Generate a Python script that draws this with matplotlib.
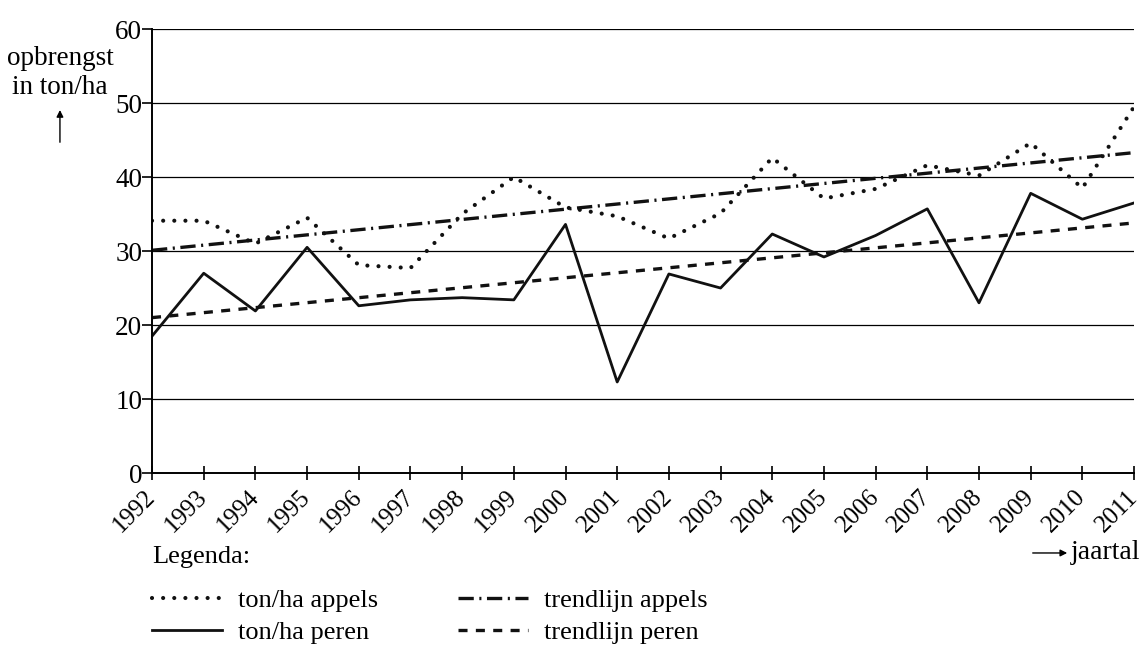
import numpy as np
import matplotlib
matplotlib.use("Agg")
import matplotlib.pyplot as plt

# data
years = list(range(1992, 2012))
appels = [34.1, 34.1, 31.0, 34.5, 28.1, 27.7, 35.0, 40.0, 35.9, 34.7,
          31.7, 35.1, 42.6, 37.1, 38.4, 41.6, 40.2, 44.6, 38.5, 49.5]
peren = [18.5, 27.0, 21.9, 30.5, 22.6, 23.4, 23.7, 23.4, 33.6, 12.3,
         26.9, 25.0, 32.3, 29.2, 32.1, 35.7, 23.0, 37.8, 34.3, 36.5]
trend_years = [1992, 2011]
trend_appels = [30.1, 43.3]
trend_peren = [21.0, 33.8]
yticks = [0, 10, 20, 30, 40, 50, 60]

plt.rcParams['font.family'] = ['Liberation Serif', 'DejaVu Serif']
plt.rcParams['lines.scale_dashes'] = False

fig = plt.figure(figsize=(11.44, 6.46), dpi=100)
ax = fig.add_axes([0.1329, 0.2678, 0.8584, 0.6872])

ax.plot(years, appels, color='#111111', lw=3, linestyle=(0, (0.01, 8)),
        dash_capstyle='round', label='ton/ha appels')
ax.plot(years, peren, color='#111111', lw=2, label='ton/ha peren')
ax.plot(trend_years, trend_appels, color='#111111', lw=2.4,
        linestyle=(0, (11, 4, 1.5, 4)), label='trendlijn appels')
ax.plot(trend_years, trend_peren, color='#111111', lw=2.4,
        linestyle=(0, (6.5, 6)), label='trendlijn peren')

ax.set_xlim(1992, 2011)
ax.set_ylim(0, 60)
ax.set_yticks(yticks)
ax.set_xticks(years)
ax.set_xticklabels([str(y) for y in years], rotation=45, ha='right',
                   va='center', rotation_mode='anchor', fontsize=18)
for t in ax.get_yticklabels():
    t.set_fontsize(19.5)
for y in yticks[1:]:
    ax.axhline(y, color='black', lw=0.9, zorder=0)

for s in ['top', 'right']:
    ax.spines[s].set_visible(False)
ax.spines['left'].set_linewidth(1.4)
ax.spines['bottom'].set_linewidth(1.4)
ax.tick_params(axis='y', direction='out', length=7, width=1.2, pad=0)
ax.tick_params(axis='x', direction='inout', length=10, width=1.2, pad=10)

# y label with upward arrow
fig.text(0.0524, 0.887, 'opbrengst\nin ton/ha', ha='center', va='center',
         fontsize=19.5, linespacing=1.2)
ax.annotate('', xy=(0.0524, 0.834), xycoords='figure fraction',
            xytext=(0.0524, 0.7755), textcoords='figure fraction',
            arrowprops=dict(arrowstyle='-|>', color='black', lw=1,
                            mutation_scale=10))

# x label with arrow
fig.text(0.9965, 0.144, 'jaartal', ha='right', va='center', fontsize=20)
ax.annotate('', xy=(0.9353, 0.144), xycoords='figure fraction',
            xytext=(0.9003, 0.144), textcoords='figure fraction',
            arrowprops=dict(arrowstyle='-|>', color='black', lw=1,
                            mutation_scale=10))

fig.text(0.1329, 0.1385, 'Legenda:', ha='left', va='center', fontsize=19)
leg = fig.legend(loc='upper left', bbox_to_anchor=(0.1329, 0.089), ncol=2,
                 frameon=False, fontsize=19, handlelength=2.65,
                 handletextpad=0.6, columnspacing=3.05, labelspacing=0.34,
                 borderaxespad=0, borderpad=0)

fig.savefig('out.png', dpi=100)
